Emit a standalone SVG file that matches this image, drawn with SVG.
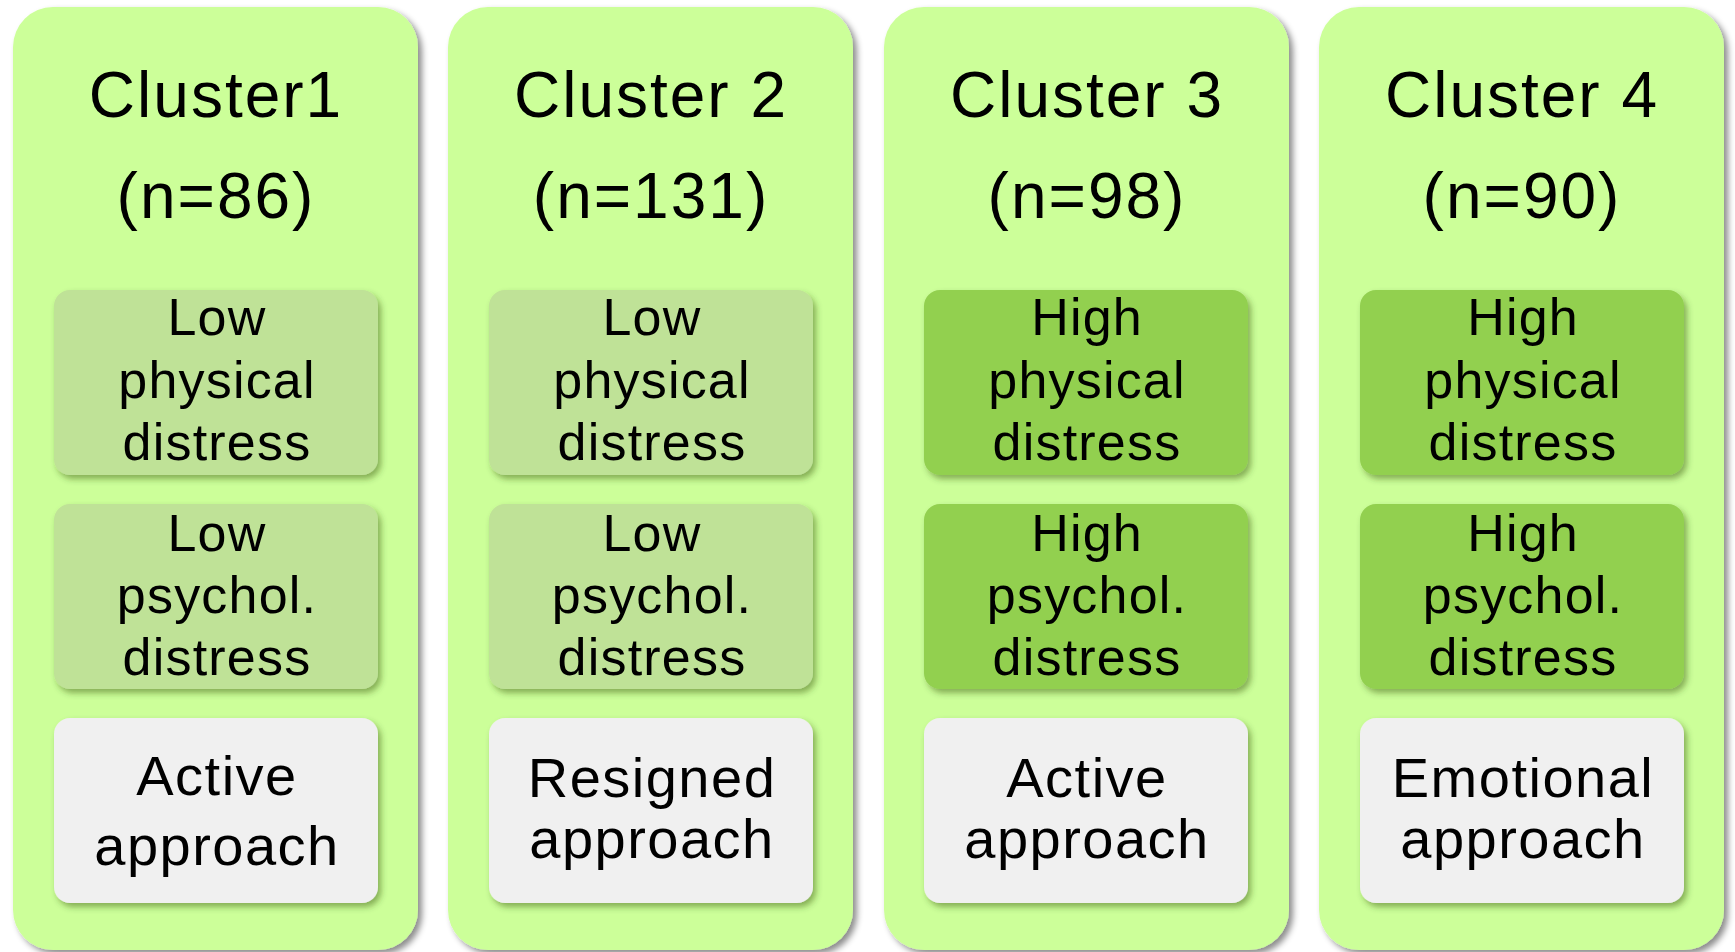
<svg xmlns="http://www.w3.org/2000/svg" width="1735" height="952" viewBox="0 0 1735 952">
<style>
  .outer { fill: #CCFF99; filter: url(#sh); }
  .lt { fill: #BFE297; filter: url(#sh2); }
  .dk { fill: #92D050; filter: url(#sh2); }
  .gr { fill: #F0F0F0; filter: url(#sh2); }
  text { font-family: "Liberation Sans", Arial, sans-serif; fill: #000; text-anchor: middle; }
  .t { font-size: 64px; letter-spacing: 2px; }
  .s { font-size: 52px; letter-spacing: 1.2px; }
  .a { font-size: 56px; letter-spacing: 1.5px; }
</style>
<defs>
  <filter id="sh" x="-10%" y="-10%" width="125%" height="125%">
    <feDropShadow dx="4" dy="4" stdDeviation="3" flood-color="#000" flood-opacity="0.45"/>
  </filter>
  <filter id="sh2" x="-10%" y="-10%" width="125%" height="125%">
    <feDropShadow dx="3" dy="4" stdDeviation="3" flood-color="#2a4a10" flood-opacity="0.45"/>
  </filter>
</defs>
<rect width="1735" height="952" fill="#FFFFFF"/>

<g id="cluster1">
  <rect class="outer" x="13" y="7" width="405" height="943" rx="40"/>
  <text class="t" x="216" y="117">Cluster1</text>
  <text class="t" x="216" y="218">(n=86)</text>
  <g id="c1-physical">
    <rect class="lt" x="54" y="290" width="324" height="185" rx="16"/>
    <text class="s" x="217" y="335">Low</text>
    <text class="s" x="217" y="398">physical</text>
    <text class="s" x="217" y="460">distress</text>
  </g>
  <g id="c1-psychol">
    <rect class="lt" x="54" y="504" width="324" height="185" rx="16"/>
    <text class="s" x="217" y="551">Low</text>
    <text class="s" x="217" y="613">psychol.</text>
    <text class="s" x="217" y="675">distress</text>
  </g>
  <g id="c1-approach">
    <rect class="gr" x="54" y="718" width="324" height="185" rx="16"/>
    <text class="a" x="217" y="795">Active</text>
    <text class="a" x="217" y="865">approach</text>
  </g>
</g>

<g id="cluster2">
  <rect class="outer" x="448" y="7" width="405" height="943" rx="40"/>
  <text class="t" x="651" y="117">Cluster 2</text>
  <text class="t" x="651" y="218">(n=131)</text>
  <g id="c2-physical">
    <rect class="lt" x="489" y="290" width="324" height="185" rx="16"/>
    <text class="s" x="652" y="335">Low</text>
    <text class="s" x="652" y="398">physical</text>
    <text class="s" x="652" y="460">distress</text>
  </g>
  <g id="c2-psychol">
    <rect class="lt" x="489" y="504" width="324" height="185" rx="16"/>
    <text class="s" x="652" y="551">Low</text>
    <text class="s" x="652" y="613">psychol.</text>
    <text class="s" x="652" y="675">distress</text>
  </g>
  <g id="c2-approach">
    <rect class="gr" x="489" y="718" width="324" height="185" rx="16"/>
    <text class="a" x="652" y="797">Resigned</text>
    <text class="a" x="652" y="858">approach</text>
  </g>
</g>

<g id="cluster3">
  <rect class="outer" x="884" y="7" width="405" height="943" rx="40"/>
  <text class="t" x="1087" y="117">Cluster 3</text>
  <text class="t" x="1087" y="218">(n=98)</text>
  <g id="c3-physical">
    <rect class="dk" x="924" y="290" width="324" height="185" rx="16"/>
    <text class="s" x="1087" y="335">High</text>
    <text class="s" x="1087" y="398">physical</text>
    <text class="s" x="1087" y="460">distress</text>
  </g>
  <g id="c3-psychol">
    <rect class="dk" x="924" y="504" width="324" height="185" rx="16"/>
    <text class="s" x="1087" y="551">High</text>
    <text class="s" x="1087" y="613">psychol.</text>
    <text class="s" x="1087" y="675">distress</text>
  </g>
  <g id="c3-approach">
    <rect class="gr" x="924" y="718" width="324" height="185" rx="16"/>
    <text class="a" x="1087" y="797">Active</text>
    <text class="a" x="1087" y="858">approach</text>
  </g>
</g>

<g id="cluster4">
  <rect class="outer" x="1319" y="7" width="405" height="943" rx="40"/>
  <text class="t" x="1522" y="117">Cluster 4</text>
  <text class="t" x="1522" y="218">(n=90)</text>
  <g id="c4-physical">
    <rect class="dk" x="1360" y="290" width="324" height="185" rx="16"/>
    <text class="s" x="1523" y="335">High</text>
    <text class="s" x="1523" y="398">physical</text>
    <text class="s" x="1523" y="460">distress</text>
  </g>
  <g id="c4-psychol">
    <rect class="dk" x="1360" y="504" width="324" height="185" rx="16"/>
    <text class="s" x="1523" y="551">High</text>
    <text class="s" x="1523" y="613">psychol.</text>
    <text class="s" x="1523" y="675">distress</text>
  </g>
  <g id="c4-approach">
    <rect class="gr" x="1360" y="718" width="324" height="185" rx="16"/>
    <text class="a" x="1523" y="797">Emotional</text>
    <text class="a" x="1523" y="858">approach</text>
  </g>
</g>

<g id="connectors"></g>
</svg>
